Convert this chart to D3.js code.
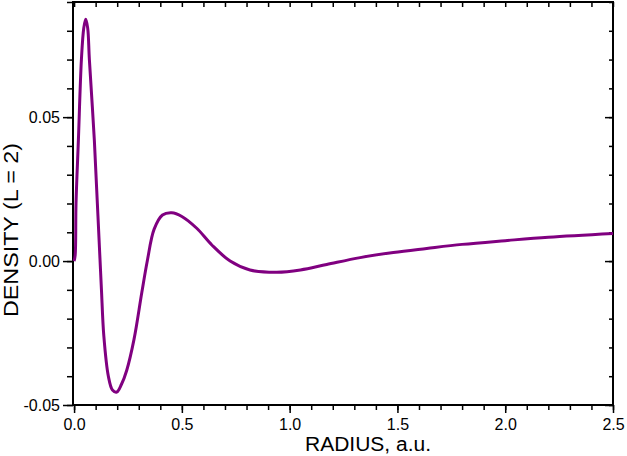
<!DOCTYPE html>
<html>
<head>
<meta charset="utf-8">
<script src="https://cdn.jsdelivr.net/npm/d3@7"></script>
<style>
  body { margin: 0; background: #fff; }
  svg text { font-family: "Liberation Sans", Arial, sans-serif; fill: #000; }
</style>
</head>
<body>
<div class="chart"></div>
<script>
// radius (a.u.) and density
const radius = [0, 0.005, 0.009, 0.020, 0.034, 0.045, 0.054, 0.063, 0.071, 0.094, 0.108, 0.120,
  0.127, 0.138, 0.159, 0.178, 0.198, 0.220, 0.244, 0.278, 0.314, 0.340, 0.371, 0.410, 0.453,
  0.500, 0.569, 0.639, 0.724, 0.816, 0.940, 1.050, 1.172, 1.327, 1.481, 1.636, 1.800, 2.000,
  2.200, 2.500];
const density = [0, 0.002, 0.020, 0.042, 0.070, 0.081, 0.0840, 0.081, 0.070, 0.042, 0.020, 0.001,
  -0.010, -0.026, -0.040, -0.0448, -0.0455, -0.0428, -0.038, -0.0272, -0.011, 0.0002, 0.0110, 0.0160, 0.0168,
  0.0155, 0.0114, 0.0056, 0.0000, -0.0031, -0.0039, -0.0031, -0.0012, 0.0012, 0.0030, 0.0044, 0.0058, 0.0071,
  0.0083, 0.0096];

const xMajor = [0, 0.5, 1.0, 1.5, 2.0, 2.5];
const xMajorLabels = ['0.0', '0.5', '1.0', '1.5', '2.0', '2.5'];
const xMinor = d3.range(0, 2.501, 0.1);
const yMajor = [-0.05, 0, 0.05];
const yMajorLabels = ['-0.05', '0.00', '0.05'];
const yMinor = d3.range(-0.05, 0.0901, 0.01);

const svg_width = 627, svg_height = 456;
const box = {left: 73, right: 613, top: 2, bottom: 405};

const svg = d3.select('.chart').append('svg')
  .attr('width', svg_width).attr('height', svg_height);

const xScale = d3.scaleLinear().domain([-0.005, 2.5]).range([box.left, box.right]);
const yScale = d3.scaleLinear().domain([-0.05, 0.09]).range([box.bottom, box.top]);

function styleAxis(g) {
  g.select('.domain').remove();
  g.selectAll('.tick line').attr('stroke', '#000').attr('stroke-width', 1.5);
  g.selectAll('.tick text').style('font-size', '16px');
}

// minor ticks (no labels)
svg.append('g').attr('transform', `translate(0,${box.bottom})`)
  .call(d3.axisBottom(xScale).tickValues(xMinor).tickSize(5).tickFormat(''))
  .call(styleAxis);
svg.append('g').attr('transform', `translate(${box.left},0)`)
  .call(d3.axisLeft(yScale).tickValues(yMinor).tickSize(6).tickFormat(''))
  .call(styleAxis);
svg.append('g').attr('transform', `translate(0,${box.top})`)
  .call(d3.axisBottom(xScale).tickValues(xMinor).tickSize(5).tickFormat(''))
  .call(styleAxis);
svg.append('g').attr('transform', `translate(${box.right},0)`)
  .call(d3.axisLeft(yScale).tickValues(yMinor).tickSize(4).tickFormat(''))
  .call(styleAxis);
svg.append('g').attr('transform', `translate(${box.right},0)`)
  .call(d3.axisLeft(yScale).tickValues(yMajor).tickSize(8).tickFormat(''))
  .call(styleAxis);

// major ticks with labels
svg.append('g').attr('transform', `translate(0,${box.bottom})`)
  .call(d3.axisBottom(xScale).tickValues(xMajor).tickSize(8).tickPadding(6)
    .tickFormat((d, i) => xMajorLabels[i]))
  .call(styleAxis);
svg.append('g').attr('transform', `translate(${box.left},0)`)
  .call(d3.axisLeft(yScale).tickValues(yMajor).tickSize(10).tickPadding(3)
    .tickFormat((d, i) => yMajorLabels[i]))
  .call(styleAxis);

// frame
svg.append('rect')
  .attr('x', box.left).attr('y', box.top)
  .attr('width', box.right - box.left).attr('height', box.bottom - box.top)
  .attr('fill', 'none').attr('stroke', '#000').attr('stroke-width', 2);

// curve
const points = radius.map((r, i) => ({r: r, v: density[i]}));
const lineGen = d3.line()
  .x(d => xScale(d.r))
  .y(d => yScale(d.v))
  .curve(d3.curveCatmullRom.alpha(0.5));
svg.append('path')
  .attr('d', lineGen(points))
  .attr('fill', 'none')
  .attr('stroke', '#800080')
  .attr('stroke-width', 3)
  .attr('stroke-linejoin', 'round');

// axis titles
svg.append('text')
  .attr('x', 368).attr('y', 451)
  .attr('text-anchor', 'middle')
  .attr('textLength', 126).attr('lengthAdjust', 'spacingAndGlyphs')
  .style('font-size', '20px')
  .text('RADIUS, a.u.');
svg.append('text')
  .attr('transform', 'translate(18,230) rotate(-90)')
  .attr('text-anchor', 'middle')
  .attr('textLength', 174).attr('lengthAdjust', 'spacingAndGlyphs')
  .style('font-size', '20px')
  .text('DENSITY (L = 2)');
</script>
</body>
</html>
